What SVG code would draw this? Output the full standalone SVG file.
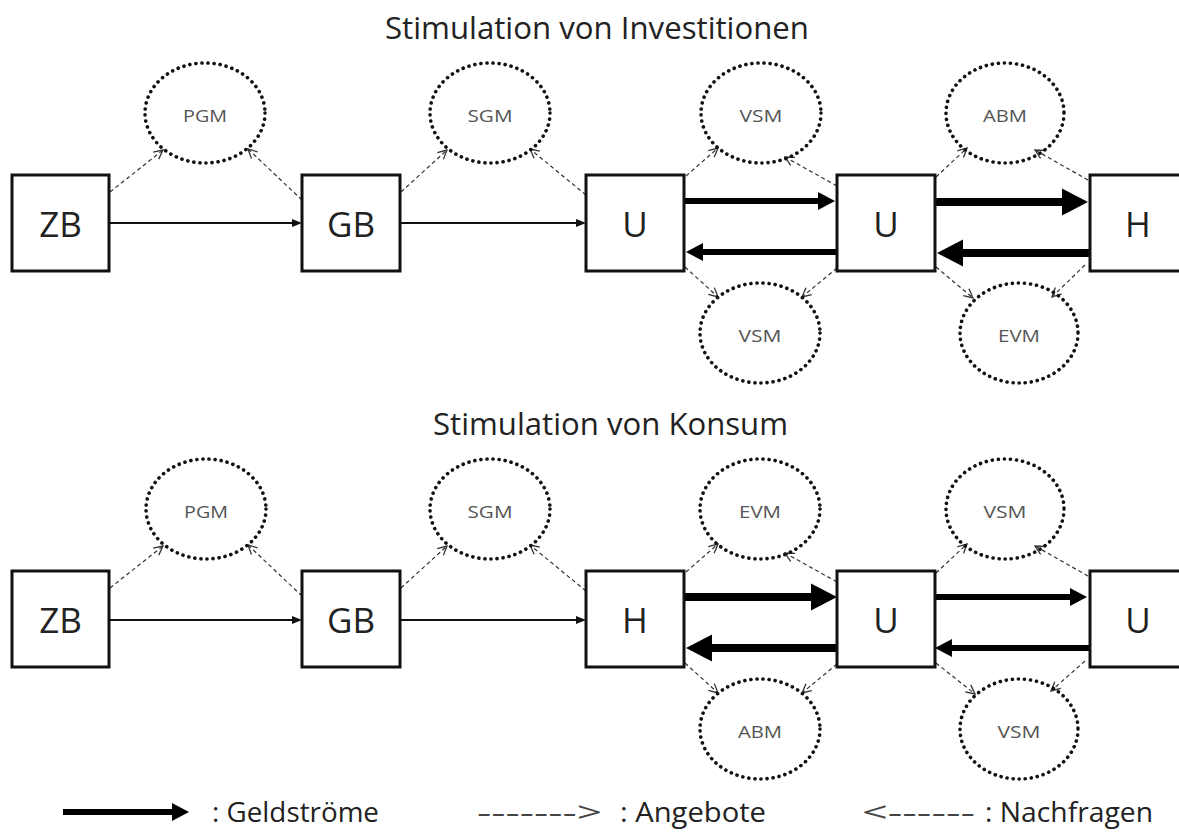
<svg xmlns="http://www.w3.org/2000/svg" width="1179" height="837" viewBox="0 0 1179 837">
<style>
.box{fill:#fff;stroke:#111;stroke-width:3}
.bl{font-family:"Open Sans","Liberation Sans",sans-serif;font-size:35px;fill:#222;text-anchor:middle}
.mk{fill:none;stroke:#111;stroke-width:3.6;stroke-dasharray:0.1 6;stroke-linecap:round}
.ml{font-family:"Open Sans","Liberation Sans",sans-serif;font-size:17px;fill:#555;text-anchor:middle}
.title{font-family:"Open Sans","Liberation Sans",sans-serif;font-size:31px;fill:#222}
.leg{font-family:"Open Sans","Liberation Sans",sans-serif;font-size:27px;fill:#222}
.thin{stroke:#111;stroke-width:1.8;fill:none;marker-end:url(#hThin)}
.med{stroke:#000;stroke-width:6;fill:none;marker-end:url(#hMed)}
.thick{stroke:#000;stroke-width:8;fill:none;marker-end:url(#hThick)}
.dash{stroke:#333;stroke-width:1.2;stroke-dasharray:4 3;fill:none;marker-end:url(#hOpen)}
</style>
<defs>
<marker id="hThin" markerUnits="userSpaceOnUse" markerWidth="12" markerHeight="10" refX="0" refY="4" orient="auto" overflow="visible"><path d="M0,0 L10,4 L0,8 z" fill="#111"/></marker>
<marker id="hMed" markerUnits="userSpaceOnUse" markerWidth="20" markerHeight="20" refX="0" refY="9" orient="auto" overflow="visible"><path d="M0,0 L17,9 L0,18 z" fill="#000"/></marker>
<marker id="hThick" markerUnits="userSpaceOnUse" markerWidth="30" markerHeight="30" refX="0" refY="13.5" orient="auto" overflow="visible"><path d="M0,0 L26,13.5 L0,27 z" fill="#000"/></marker>
<marker id="hOpen" markerUnits="userSpaceOnUse" markerWidth="12" markerHeight="12" refX="9" refY="4.5" orient="auto" overflow="visible"><path d="M0,0 L9,4.5 L0,9" fill="none" stroke="#333" stroke-width="1.3"/></marker>
</defs>
<rect width="1179" height="837" fill="#fff"/>

<text class="title" x="385" y="39" textLength="424" lengthAdjust="spacingAndGlyphs">Stimulation von Investitionen</text>
<text class="title" x="433" y="435" textLength="355" lengthAdjust="spacingAndGlyphs">Stimulation von Konsum</text>

<g id="connectors">
<!-- top row -->
<line class="thin" x1="109" y1="223" x2="292" y2="223"/>
<line class="thin" x1="400" y1="223" x2="576" y2="223"/>
<line class="med" x1="684" y1="201" x2="818" y2="201"/>
<line class="med" x1="837" y1="252" x2="703" y2="252"/>
<line class="thick" x1="935" y1="202" x2="1062" y2="202"/>
<line class="thick" x1="1090" y1="253" x2="963" y2="253"/>
<line class="dash" x1="110" y1="192" x2="163" y2="150"/>
<line class="dash" x1="302" y1="200" x2="248" y2="149"/>
<line class="dash" x1="401" y1="192" x2="447" y2="150"/>
<line class="dash" x1="586" y1="195" x2="530" y2="149"/>
<line class="dash" x1="686" y1="176" x2="718" y2="148"/>
<line class="dash" x1="837" y1="186" x2="785" y2="157"/>
<line class="dash" x1="685" y1="267" x2="718" y2="297"/>
<line class="dash" x1="837" y1="268" x2="802" y2="297"/>
<line class="dash" x1="936" y1="177" x2="967" y2="148"/>
<line class="dash" x1="1088" y1="180" x2="1035" y2="150"/>
<line class="dash" x1="936" y1="267" x2="973" y2="298"/>
<line class="dash" x1="1085" y1="265" x2="1052" y2="297"/>
<!-- bottom row -->
<line class="thin" x1="109" y1="620" x2="292" y2="620"/>
<line class="thin" x1="400" y1="620" x2="576" y2="620"/>
<line class="thick" x1="684" y1="597" x2="811" y2="597"/>
<line class="thick" x1="837" y1="648" x2="712" y2="648"/>
<line class="med" x1="935" y1="597" x2="1070" y2="597"/>
<line class="med" x1="1090" y1="648" x2="952" y2="648"/>
<line class="dash" x1="110" y1="588" x2="163" y2="546"/>
<line class="dash" x1="302" y1="596" x2="248" y2="545"/>
<line class="dash" x1="401" y1="588" x2="447" y2="546"/>
<line class="dash" x1="586" y1="591" x2="530" y2="545"/>
<line class="dash" x1="686" y1="572" x2="718" y2="544"/>
<line class="dash" x1="837" y1="582" x2="785" y2="553"/>
<line class="dash" x1="685" y1="663" x2="718" y2="693"/>
<line class="dash" x1="837" y1="664" x2="802" y2="693"/>
<line class="dash" x1="936" y1="573" x2="967" y2="544"/>
<line class="dash" x1="1088" y1="576" x2="1035" y2="546"/>
<line class="dash" x1="936" y1="663" x2="975" y2="694"/>
<line class="dash" x1="1085" y1="661" x2="1051" y2="691"/>
</g>

<!-- top row nodes -->
<g id="zb1"><rect class="box" x="12" y="175" width="97" height="96"/><text class="bl" x="60.5" y="237">ZB</text></g>
<g id="gb1"><rect class="box" x="302" y="175" width="98" height="96"/><text class="bl" x="351" y="237">GB</text></g>
<g id="u1"><rect class="box" x="586" y="175" width="98" height="96"/><text class="bl" x="635" y="237">U</text></g>
<g id="u2"><rect class="box" x="837" y="175" width="98" height="96"/><text class="bl" x="886" y="237">U</text></g>
<g id="h1"><rect class="box" x="1090" y="175" width="98" height="96"/><text class="bl" x="1138" y="237">H</text></g>
<g id="pgm1"><ellipse class="mk" cx="205" cy="113" rx="60" ry="50"/><text class="ml" x="205" y="122" textLength="44" lengthAdjust="spacingAndGlyphs">PGM</text></g>
<g id="sgm1"><ellipse class="mk" cx="490" cy="113" rx="60" ry="50"/><text class="ml" x="490" y="122" textLength="45" lengthAdjust="spacingAndGlyphs">SGM</text></g>
<g id="vsm1"><ellipse class="mk" cx="761" cy="113" rx="60" ry="50"/><text class="ml" x="761" y="122" textLength="43" lengthAdjust="spacingAndGlyphs">VSM</text></g>
<g id="abm1"><ellipse class="mk" cx="1005" cy="113" rx="59" ry="50"/><text class="ml" x="1005" y="122" textLength="44" lengthAdjust="spacingAndGlyphs">ABM</text></g>
<g id="vsm2"><ellipse class="mk" cx="760" cy="333" rx="60" ry="50"/><text class="ml" x="760" y="342" textLength="43" lengthAdjust="spacingAndGlyphs">VSM</text></g>
<g id="evm1"><ellipse class="mk" cx="1019" cy="333" rx="59" ry="50"/><text class="ml" x="1019" y="342" textLength="42" lengthAdjust="spacingAndGlyphs">EVM</text></g>

<!-- bottom row nodes -->
<g id="zb2"><rect class="box" x="12" y="571" width="97" height="96"/><text class="bl" x="60.5" y="633">ZB</text></g>
<g id="gb2"><rect class="box" x="302" y="571" width="98" height="96"/><text class="bl" x="351" y="633">GB</text></g>
<g id="h2"><rect class="box" x="586" y="571" width="98" height="96"/><text class="bl" x="635" y="633">H</text></g>
<g id="u3"><rect class="box" x="837" y="571" width="98" height="96"/><text class="bl" x="886" y="633">U</text></g>
<g id="u4"><rect class="box" x="1090" y="571" width="98" height="96"/><text class="bl" x="1138" y="633">U</text></g>
<g id="pgm2"><ellipse class="mk" cx="206" cy="509" rx="60" ry="50"/><text class="ml" x="206" y="518" textLength="44" lengthAdjust="spacingAndGlyphs">PGM</text></g>
<g id="sgm2"><ellipse class="mk" cx="490" cy="509" rx="60" ry="50"/><text class="ml" x="490" y="518" textLength="45" lengthAdjust="spacingAndGlyphs">SGM</text></g>
<g id="evm2"><ellipse class="mk" cx="760" cy="509" rx="60" ry="50"/><text class="ml" x="760" y="518" textLength="42" lengthAdjust="spacingAndGlyphs">EVM</text></g>
<g id="vsm3"><ellipse class="mk" cx="1005" cy="509" rx="59" ry="50"/><text class="ml" x="1005" y="518" textLength="43" lengthAdjust="spacingAndGlyphs">VSM</text></g>
<g id="abm2"><ellipse class="mk" cx="760" cy="729" rx="60" ry="50"/><text class="ml" x="760" y="738" textLength="44" lengthAdjust="spacingAndGlyphs">ABM</text></g>
<g id="vsm4"><ellipse class="mk" cx="1019" cy="729" rx="59" ry="50"/><text class="ml" x="1019" y="738" textLength="43" lengthAdjust="spacingAndGlyphs">VSM</text></g>

<!-- legend -->
<g id="legend">
<line class="med" x1="63" y1="812" x2="172" y2="812"/>
<text class="leg" x="212" y="822" textLength="167" lengthAdjust="spacingAndGlyphs">: Geldströme</text>
<text class="leg" x="477" y="822" textLength="125" lengthAdjust="spacingAndGlyphs" style="fill:#444">-------&gt;</text>
<text class="leg" x="620" y="822" textLength="146" lengthAdjust="spacingAndGlyphs">: Angebote</text>
<text class="leg" x="862" y="822" textLength="113" lengthAdjust="spacingAndGlyphs" style="fill:#444">&lt;------</text>
<text class="leg" x="985" y="822" textLength="168" lengthAdjust="spacingAndGlyphs">: Nachfragen</text>
</g>
</svg>
